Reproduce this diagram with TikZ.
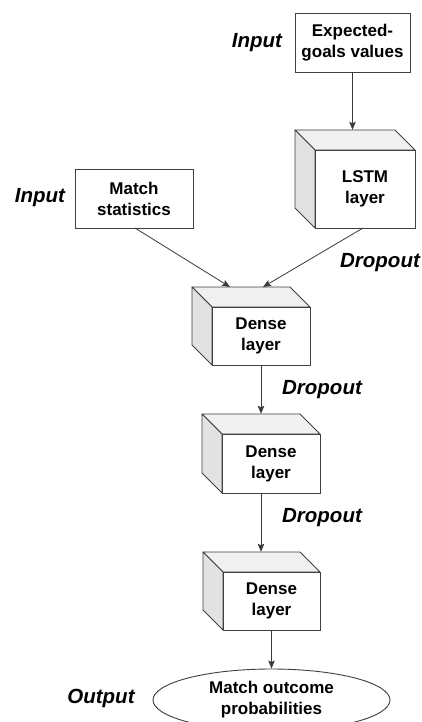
\documentclass[tikz,border=0pt]{standalone}
\usepackage{fontspec}
\setmainfont{Liberation Sans}
\usetikzlibrary{arrows.meta,shapes.geometric}
\definecolor{edgegray}{HTML}{404040}
\definecolor{topgray}{HTML}{F0F0F0}
\definecolor{sidegray}{HTML}{E2E2E2}
\tikzset{
  boxtext/.style={font=\bfseries\fontsize{17}{21}\selectfont, align=center},
  inbox/.style={boxtext, draw=edgegray, line width=0.9pt, fill=white, inner sep=0pt},
  cubefront/.style={boxtext, draw=edgegray, line width=0.9pt, fill=white, inner sep=0pt},
  cubeback/.style={inner sep=0pt},
  tag/.style={font=\bfseries\itshape\fontsize{20.5}{24}\selectfont},
  conn/.style={draw=edgegray!90!black, line width=0.8pt, -{Stealth[length=8pt,width=6.5pt,inset=1.5pt]}},
  facetop/.style={fill=topgray, draw=edgegray, line width=0.9pt, line join=round},
  faceside/.style={fill=sidegray, draw=edgegray, line width=0.9pt, line join=round},
}
% cube: name, center x, center y, width, height, text
\newcommand{\mycube}[6]{%
  \node[cubeback, minimum width=#4pt, minimum height=#5pt] (#1b) at (#2-20,#3-20) {};
  \path[facetop] (#2-#4/2,#3-#5/2) -- (#2-#4/2-20,#3-#5/2-20) -- (#2+#4/2-20,#3-#5/2-20) -- (#2+#4/2,#3-#5/2) -- cycle;
  \path[faceside] (#2-#4/2,#3-#5/2) -- (#2-#4/2-20,#3-#5/2-20) -- (#2-#4/2-20,#3+#5/2-20) -- (#2-#4/2,#3+#5/2) -- cycle;
  \node[cubefront, minimum width=#4pt, minimum height=#5pt] (#1) at (#2,#3) {#6};
}
\begin{document}
\begin{tikzpicture}[x=1pt,y=-1pt]
\clip (0,0) rectangle (421,722);
\fill[white] (0,0) rectangle (421,722);

% input boxes
\node[inbox, minimum width=115pt, minimum height=59pt] (xg) at (352.5,42.5) {Expected-\\goals values};
\node[inbox, minimum width=118pt, minimum height=59pt] (ms) at (134,198.5) {Match\\statistics};

% cubes
\mycube{lstm}{365}{189}{100}{78}{LSTM\\layer}
\mycube{da}{261}{336}{98}{58}{Dense\\layer}
\mycube{db}{271}{463.5}{98}{59}{Dense\\layer}
\mycube{dc}{271.5}{601}{97}{58}{Dense\\layer}

% output ellipse
\node[ellipse, draw=edgegray, line width=0.9pt, boxtext, minimum width=237pt, minimum height=62pt, inner sep=0pt] (out) at (271.5,700) {Match outcome\\probabilities};

% labels
\node[tag] (l1) at (257,43) {Input};
\node[tag] (l2) at (40,198) {Input};
\node[tag] (l3) at (380,263) {Dropout};
\node[tag] (l4) at (322,390) {Dropout};
\node[tag] (l5) at (322,518) {Dropout};
\node[tag] (l6) at (101,698) {Output};

% connectors
\coordinate (msend) at (230,287);
\coordinate (lstmend) at (263,287);
\coordinate (lstmstart) at (363,228);
\coordinate (msstart) at (135,228);
\draw[conn] (xg.south) -- (xg.south |- lstmb.north);
\draw[conn] (msstart) -- (msend);
\draw[conn] (lstmstart) -- (lstmend);
\draw[conn] (da.south) -- (da.south |- dbb.north);
\draw[conn] (da.south |- db.south) -- (da.south |- dcb.north);
\draw[conn] (dc.south) -- (out.north);
\end{tikzpicture}
\end{document}
